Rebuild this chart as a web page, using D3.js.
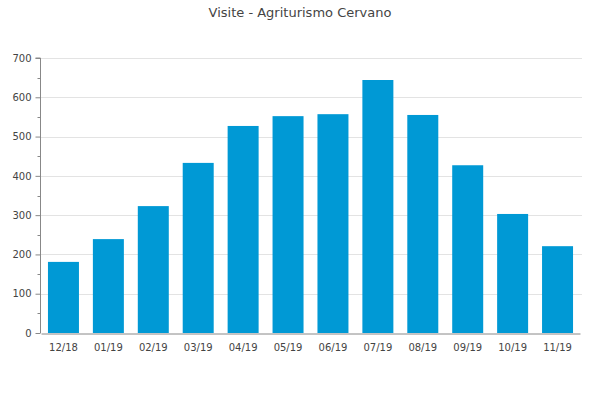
<!DOCTYPE html>
<html><head><meta charset="utf-8">
<script src="https://cdn.jsdelivr.net/npm/d3@7"></script>
<style>body{margin:0;background:#fff}svg{display:block}</style>
</head><body><svg id="c" width="600" height="400"></svg>
<script>
const categories = ["12/18","01/19","02/19","03/19","04/19","05/19","06/19","07/19","08/19","09/19","10/19","11/19"];
const visits = [181,239,323,433,527,552,557,644,555,427,303,221];
const yTicks = [0,100,200,300,400,500,600,700];
const yMinor = [50,150,250,350,450,550,650];
const title = "Visite - Agriturismo Cervano";

const svg = d3.select("#c");
const font = "DejaVu Sans, Verdana, sans-serif";
const m = {l:41, r:20, t:58, b:67};
const W = 600, H = 400;
const x = d3.scaleBand().domain(categories).range([m.l, W - m.r]).paddingInner(0.31).paddingOuter(0.155);
const y = d3.scaleLinear().domain([0,700]).range([H - m.b, m.t]);

svg.append("text").attr("x", 300).attr("y", 17).attr("text-anchor","middle")
  .attr("font-family", font).attr("font-size", 13).attr("fill","#444").text(title);

svg.append("g").selectAll("line").data(yTicks.slice(1)).join("line")
  .attr("x1", m.l).attr("x2", W - m.r + 2).attr("y1", d => Math.round(y(d))+0.5).attr("y2", d => Math.round(y(d))+0.5)
  .attr("stroke","#e3e3e3").attr("stroke-width",1);

svg.append("g").selectAll("rect").data(visits).join("rect")
  .attr("x", (d,i) => x(categories[i])).attr("width", x.bandwidth())
  .attr("y", d => y(d)).attr("height", d => y(0) - y(d)).attr("fill","#0099d5");

const ya = svg.append("g").attr("transform", `translate(${m.l - 0.5},0)`)
  .call(d3.axisLeft(y).tickValues(yTicks).tickSize(5).tickPadding(4).tickFormat(d3.format("d")));
ya.select(".domain").attr("stroke","#888").attr("d", `M-5,${y(700)}H0V${y(0)}`);
ya.selectAll(".tick line").attr("stroke","#888");
ya.selectAll("text").attr("font-family", font).attr("font-size", 10).attr("fill","#444");
svg.append("g").attr("transform", `translate(${m.l - 0.5},0)`).selectAll("line").data(yMinor).join("line")
  .attr("x1",-3).attr("x2",0).attr("y1", d => Math.round(y(d))+0.5).attr("y2", d => Math.round(y(d))+0.5).attr("stroke","#888");

const xa = svg.append("g").attr("transform", `translate(0,${y(0)+0.5})`)
  .call(d3.axisBottom(x).tickSize(0).tickPadding(10));
xa.select(".domain").attr("stroke","#888");
xa.selectAll("text").attr("font-family", font).attr("font-size", 10).attr("fill","#444");
</script></body></html>
